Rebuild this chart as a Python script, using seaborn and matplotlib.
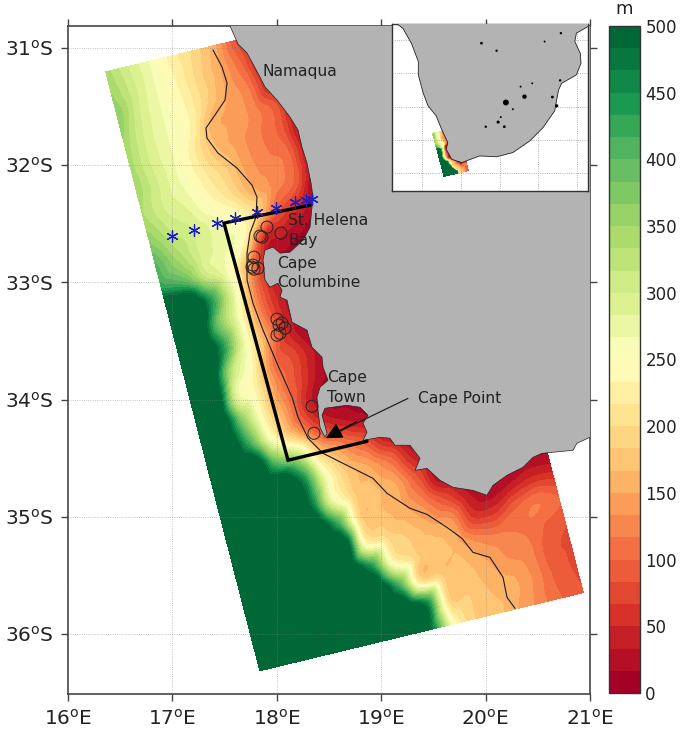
import numpy as np
import matplotlib
matplotlib.use("Agg")
import matplotlib.pyplot as plt
import matplotlib.tri as mtri
import seaborn as sns

# model domain corners (NW, SW, SE ends of the rotated box)
corner_nw = (16.364, 31.205)
corner_ne = (19.458, 30.539)
corner_sw = (17.839, 36.312)

# depth (m), rows run north to south, columns west to east
depth_rows = [
    [340, 300, 265, 225, 195, 155, 80, 10, 10, 10, 10, 10, 10, 10, 10, 10],
    [350, 305, 265, 230, 190, 150, 100, 20, 10, 10, 10, 10, 10, 10, 10, 10],
    [365, 300, 265, 235, 190, 148, 118, 40, 10, 10, 10, 10, 10, 10, 10, 10],
    [345, 295, 265, 235, 160, 145, 125, 90, 15, 10, 10, 10, 10, 10, 10, 10],
    [340, 295, 265, 215, 165, 140, 118, 90, 10, 10, 10, 10, 10, 10, 10, 10],
    [345, 300, 265, 225, 190, 145, 122, 105, 20, 10, 10, 10, 10, 10, 10, 10],
    [335, 300, 280, 240, 205, 155, 128, 100, 10, 10, 10, 10, 10, 10, 10, 10],
    [360, 320, 300, 275, 250, 190, 90, 50, 10, 10, 10, 10, 10, 10, 10, 10],
    [400, 345, 300, 275, 245, 60, 35, 15, 10, 10, 10, 10, 10, 10, 10, 10],
    [430, 400, 315, 265, 150, 30, 10, 10, 10, 10, 10, 10, 10, 10, 10, 10],
    [500, 500, 440, 285, 125, 40, 10, 10, 10, 10, 10, 10, 10, 10, 10, 10],
    [500, 500, 390, 265, 125, 45, 10, 10, 10, 10, 10, 10, 10, 10, 10, 10],
    [500, 500, 440, 265, 145, 50, 10, 10, 10, 10, 10, 10, 10, 10, 10, 10],
    [500, 500, 340, 240, 115, 75, 30, 10, 10, 10, 10, 10, 10, 10, 10, 10],
    [500, 500, 290, 225, 125, 70, 20, 10, 10, 10, 10, 10, 10, 10, 10, 10],
    [500, 500, 370, 230, 140, 50, 10, 10, 10, 10, 10, 10, 10, 10, 10, 10],
    [500, 500, 430, 265, 170, 90, 45, 25, 10, 10, 10, 10, 10, 10, 10, 10],
    [500, 500, 500, 400, 340, 190, 135, 95, 40, 10, 10, 10, 10, 10, 10, 10],
    [500, 500, 500, 500, 465, 265, 180, 150, 110, 45, 10, 10, 10, 10, 10, 10],
    [500, 500, 500, 500, 490, 280, 190, 170, 150, 90, 15, 10, 10, 10, 10, 10],
    [500, 500, 500, 500, 500, 430, 200, 172, 155, 125, 80, 35, 15, 30, 50, 50],
    [500, 500, 500, 500, 500, 500, 240, 200, 178, 158, 140, 65, 60, 95, 115, 100],
    [500, 500, 500, 500, 500, 500, 450, 240, 192, 178, 160, 130, 120, 115, 100, 85],
    [500, 500, 500, 500, 500, 500, 500, 420, 200, 182, 175, 155, 135, 125, 90, 80],
    [500, 500, 500, 500, 500, 500, 500, 500, 470, 195, 182, 165, 155, 130, 95, 80],
    [500, 500, 500, 500, 500, 500, 500, 500, 470, 245, 182, 172, 150, 125, 100, 85],
]

coast_lon = [17.552, 17.628, 17.715, 17.839, 17.887, 18.002, 18.126, 18.203, 18.241, 18.289,
             18.328, 18.347, 18.337, 18.318, 18.251, 18.126, 18.031, 17.964, 17.887, 17.868,
             17.887, 17.935, 18.011, 18.050, 18.031, 18.098, 18.146, 18.289, 18.337, 18.433,
             18.443, 18.490, 18.414, 18.385, 18.395, 18.414, 18.462, 18.481, 18.433, 18.462,
             18.672, 18.797, 18.874, 18.826, 18.864, 18.826, 18.989, 19.084, 19.132, 19.276,
             19.372, 19.324, 19.439, 19.563, 19.688, 19.879, 20.013, 20.071, 20.205, 20.358,
             20.454, 20.540, 20.837, 20.875, 21.0]
coast_lat = [30.812, 30.966, 31.043, 31.248, 31.333, 31.444, 31.589, 31.700, 31.845, 31.982,
             32.153, 32.272, 32.358, 32.529, 32.640, 32.742, 32.751, 32.699, 32.725, 32.810,
             32.981, 33.041, 33.007, 33.067, 33.126, 33.152, 33.340, 33.408, 33.553, 33.639,
             33.724, 33.835, 33.895, 33.980, 34.091, 34.237, 34.322, 34.288, 34.134, 34.074,
             34.049, 34.066, 34.134, 34.202, 34.279, 34.348, 34.322, 34.330, 34.390, 34.390,
             34.501, 34.604, 34.587, 34.689, 34.749, 34.775, 34.817, 34.732, 34.646, 34.578,
             34.493, 34.459, 34.433, 34.373, 34.322]

# thin black isobath
iso_lon = [17.389, 17.475, 17.523, 17.504, 17.408, 17.322, 17.331, 17.437, 17.619, 17.762,
           17.810, 17.801, 17.743, 17.715, 17.715, 17.772, 17.868, 18.002, 18.146, 18.203,
           18.299, 18.443, 18.730, 18.921, 19.056, 19.276, 19.439, 19.630, 19.774, 19.879,
           20.042, 20.167, 20.205, 20.282]
iso_lat = [31.017, 31.162, 31.299, 31.444, 31.572, 31.683, 31.769, 31.897, 32.025, 32.170,
           32.272, 32.443, 32.580, 32.751, 32.981, 33.178, 33.408, 33.690, 33.980, 34.151,
           34.330, 34.459, 34.587, 34.672, 34.800, 34.928, 34.980, 35.091, 35.185, 35.304,
           35.347, 35.517, 35.688, 35.782]

box_lon = [18.318, 17.494, 18.107, 18.864]
box_lat = [32.341, 32.494, 34.518, 34.356]

star_lon = [16.996, 17.207, 17.427, 17.600, 17.810, 17.992, 18.174, 18.280, 18.337]
star_lat = [32.605, 32.554, 32.494, 32.452, 32.401, 32.366, 32.315, 32.298, 32.289]

circle_lon = [17.906, 18.040, 17.839, 17.858, 17.782, 17.772, 17.820, 17.782, 17.762,
              18.002, 18.050, 18.079, 18.031, 18.002, 18.021, 18.337, 18.356]
circle_lat = [32.529, 32.580, 32.605, 32.614, 32.785, 32.853, 32.879, 32.887, 32.870,
              33.314, 33.348, 33.391, 33.434, 33.451, 33.365, 34.057, 34.288]

# inset: southern Africa
africa_lon = [11.75, 12.5, 13.6, 14.5, 14.5, 15.1, 15.75, 16.8, 17.5, 18.3, 18.1, 18.8, 20.1, 22.4,
              24.6, 26.7, 28.9, 30.6, 32.1, 32.6, 33.0, 34.9, 35.5, 35.4, 34.7, 34.9, 36.4, 36.4]
africa_lat = [18.1, 18.6, 20.4, 22.6, 24.2, 26.3, 27.9, 29.1, 30.7, 32.3, 33.1, 34.3, 34.7, 33.9,
              34.0, 33.5, 32.1, 30.5, 28.5, 26.0, 25.2, 24.2, 22.8, 21.6, 20.2, 19.2, 18.4, 18.1]
lake_lon = [22.65, 24.6, 32.9, 30.8, 27.7, 29.2, 25.8, 28.2, 26.7, 25.15, 24.8, 25.6, 23.2, 31.8, 32.8, 32.35]
lake_lat = [20.4, 21.3, 19.2, 20.2, 25.6, 25.2, 27.5, 26.8, 28.3, 29.25, 29.85, 30.4, 30.4, 26.85, 24.85, 27.9]
lake_size = [4, 3, 3, 2, 2, 2, 18, 10, 2, 2, 5, 4, 3, 4, 3, 6]

lon_ticks = [16, 17, 18, 19, 20, 21]
lat_ticks = [31, 32, 33, 34, 35, 36]
depth_ticks = [0, 50, 100, 150, 200, 250, 300, 350, 400, 450, 500]

land_color = '#b3b3b3'
n_levels = 30
levels = np.linspace(0, 500, n_levels + 1)
colors = sns.color_palette("RdYlGn", as_cmap=True)(np.linspace(0, 1, n_levels))

depth = np.array(depth_rows, dtype=float)
# the scale saturates at 500, deep water is well past it
depth[depth >= 500] = 570
v, u = np.meshgrid(np.linspace(0, 1, depth.shape[0]), np.linspace(0, 1, depth.shape[1]), indexing='ij')
grid_lon = corner_nw[0] + u * (corner_ne[0] - corner_nw[0]) + v * (corner_sw[0] - corner_nw[0])
grid_lat = corner_nw[1] + u * (corner_ne[1] - corner_nw[1]) + v * (corner_sw[1] - corner_nw[1])

# matplotlib's own refiner rounds off the corners of the contours
triang = mtri.Triangulation(grid_lon.ravel(), grid_lat.ravel())
interp = mtri.CubicTriInterpolator(triang, depth.ravel(), kind='geom')
fine_tri, fine_depth = mtri.UniformTriRefiner(triang).refine_field(depth.ravel(), triinterpolator=interp, subdiv=3)
fine_depth = np.clip(fine_depth, 1, 499.9)


def draw_field(ax):
    cs = ax.tricontourf(fine_tri, fine_depth, levels=levels, colors=colors)
    cs.set_edgecolor('face')
    cs.set_linewidth(0.3)
    return cs


sns.set_style("white")
fig = plt.figure(figsize=(6.85, 7.3), dpi=100)
ax = fig.add_axes([68 / 685, (730 - 693.7) / 730, 522 / 685, 668 / 730])

field = draw_field(ax)

land_x = coast_lon + [21.0, coast_lon[0]]
land_y = coast_lat + [30.81, 30.81]
ax.fill(land_x, land_y, color=land_color, lw=0, zorder=3)
sns.lineplot(x=coast_lon, y=coast_lat, sort=False, estimator=None, color='#222222', lw=0.5, ax=ax, zorder=4)
sns.lineplot(x=iso_lon, y=iso_lat, sort=False, estimator=None, color='#1a1a1a', lw=0.8, ax=ax, zorder=5)
sns.lineplot(x=box_lon, y=box_lat, sort=False, estimator=None, color='black', lw=2.4, ax=ax, zorder=6)
ax.lines[-1].set_solid_joinstyle('miter')

sns.scatterplot(x=circle_lon, y=circle_lat, s=75, facecolor='none', edgecolor='#222222', linewidth=0.7,
                ax=ax, zorder=7)
sns.scatterplot(x=star_lon, y=star_lat, s=70, marker=(6, 2, 0), color='#1c1cc8', linewidth=0.9,
                ax=ax, zorder=8)

ax.set_xlim(16, 21)
ax.set_ylim(36.51, 30.81)
ax.set_xticks(lon_ticks)
ax.set_yticks(lat_ticks)
ax.set_xticklabels([rf'$\mathregular{{{t}^{{o}}E}}$' for t in lon_ticks], fontsize=14.5)
ax.set_yticklabels([rf'$\mathregular{{{t}^{{o}}S}}$' for t in lat_ticks], fontsize=14.5)
ax.tick_params(which='both', direction='out', length=5, width=1, color='#444444', top=True, right=True,
               bottom=True, left=True, labelcolor='#222222')
ax.tick_params(axis='x', pad=6)
ax.tick_params(axis='y', pad=5)
ax.set_axisbelow(False)
ax.grid(True, ls=':', lw=0.6, color='#808080', alpha=0.6)
for s in ax.spines.values():
    s.set_color('#444444')
    s.set_linewidth(1.2)
    s.set_visible(True)

labels = [("Namaqua", 17.86, 31.2), ("St. Helena", 18.11, 32.47), ("Bay", 18.11, 32.64),
          ("Cape", 18.0, 32.84), ("Columbine", 18.0, 33.0), ("Cape", 18.48, 33.81),
          ("Town", 18.48, 33.98), ("Cape Point", 19.35, 33.99)]
for name, x, y in labels:
    ax.text(x, y, name, fontsize=11.2, color='#222222', va='center', ha='left', zorder=9)

ax.annotate("", xy=(18.49, 34.32), xytext=(19.28, 33.98), zorder=9,
            arrowprops=dict(arrowstyle='-', lw=0.9, color='#222222'))
ax.annotate("", xy=(18.47, 34.33), xytext=(18.76, 34.19), zorder=9,
            arrowprops=dict(arrowstyle='-|>', lw=0.9, color='black', mutation_scale=25, shrinkA=0, shrinkB=0))

# inset
ins = fig.add_axes([392 / 685, (730 - 191) / 730, 196 / 685, 167 / 730], zorder=5)
ins.set_facecolor('white')
draw_field(ins)
ins.fill(africa_lon, africa_lat, color=land_color, lw=0, zorder=3)
sns.lineplot(x=africa_lon[:-1], y=africa_lat[:-1], sort=False, estimator=None, color='#222222', lw=0.6,
             ax=ins, zorder=4)
sns.scatterplot(x=lake_lon, y=lake_lat, s=lake_size, color='black', linewidth=0, ax=ins, zorder=5)
ins.set_xlim(11.1, 36.4)
ins.set_ylim(38.1, 18.1)
ins.set_xticks([15, 20, 25, 30, 35])
ins.set_yticks([20, 24, 28, 32, 36])
ins.set_xticklabels([])
ins.set_yticklabels([])
ins.tick_params(length=0)
ins.set_axisbelow(False)
ins.grid(True, ls=':', lw=0.6, color='#707070', alpha=0.7)
for s in ins.spines.values():
    s.set_color('#333333')
    s.set_linewidth(1.0)
    s.set_visible(True)

# colourbar
cax = fig.add_axes([608.7 / 685, (730 - 693) / 730, 31 / 685, 667 / 730])
cb = fig.colorbar(field, cax=cax, ticks=depth_ticks, spacing='proportional', drawedges=False)
cb.ax.tick_params(direction='in', length=6, width=0.8, labelsize=12, color='#333333', labelcolor='#222222',
                  right=True, pad=4)
cb.outline.set_edgecolor('#333333')
cb.outline.set_linewidth(1.0)
fig.text(624 / 685, (730 - 9) / 730, 'm', fontsize=13, color='#222222', ha='center', va='center')

fig.savefig('out.png', dpi=100)
